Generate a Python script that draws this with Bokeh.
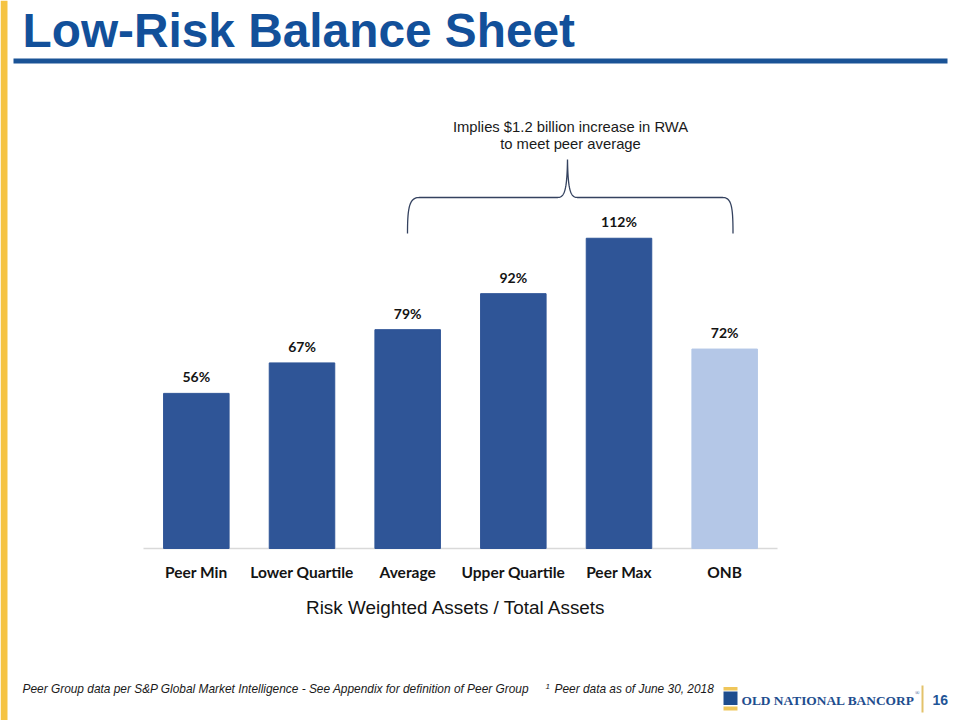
from bokeh.plotting import figure
from bokeh.models import ColumnDataSource, Range1d, LabelSet, Label, BoxAnnotation
from bokeh.core.properties import value
from bokeh.embed import file_html
from bokeh.resources import INLINE
import numpy as np

# ---------------- data ----------------
categories = ["Peer Min", "Lower Quartile", "Average", "Upper Quartile", "Peer Max", "ONB"]
values = [56, 67, 79, 92, 112, 72]
value_labels = [f"{v}%" for v in values]
bar_colors = ["#2F5597", "#2F5597", "#2F5597", "#2F5597", "#2F5597", "#B4C7E7"]

title_text = "Low-Risk Balance Sheet"
axis_title = "Risk Weighted Assets / Total Assets"
note_lines = ["Implies $1.2 billion increase in RWA", "to meet peer average"]
footer_text = "Peer Group data per S&P Global Market Intelligence - See Appendix for definition of Peer Group"
footnote_mark = "1"
footnote_text = "Peer data as of June 30, 2018"
company = "OLD NATIONAL BANCORP"
page_no = "16"

# ---------------- layout (screen pixels) ----------------
W, H = 960, 720
FRAME_L, FRAME_R = 143, 777   # extent of the category band
BASE = 548                    # pixel row of the zero line
PX_PER = 2.77                 # pixels per percentage point
CAT_W = (FRAME_R - FRAME_L) / len(categories)


def dx(sx):
    return (sx - FRAME_L) / CAT_W


def dy(sy):
    return (BASE - sy) / PX_PER


p = figure(width=W, height=H,
           x_range=Range1d(dx(0), dx(W)),
           y_range=Range1d(dy(H), dy(0)),
           output_backend="svg", toolbar_location=None,
           x_axis_location=None, y_axis_location=None,
           min_border=0)
p.outline_line_color = None
p.grid.visible = False
p.background_fill_color = "white"
p.border_fill_color = "white"

positions = [i + 0.5 for i in range(len(categories))]
src = ColumnDataSource(dict(x=positions, cat=categories, val=values, color=bar_colors,
                            label=value_labels, zero=[0] * len(values)))

# baseline (category axis line)
p.segment(x0=[0], x1=[len(categories)], y0=[0], y1=[0], line_color="#D9D9D9", line_width=1.3)

p.vbar(x="x", top="val", bottom=0, width=0.62, color="color", source=src)

p.add_layout(LabelSet(x="x", y="val", text="label", source=src, y_offset=11,
                      text_align="center", text_baseline="alphabetic",
                      text_font=value("Lato"), text_font_style="bold",
                      text_font_size="14px", text_color="#141414"))

# category labels
p.add_layout(LabelSet(x="x", y="zero", text="cat", source=src, y_offset=-23,
                      text_align="center", text_baseline="middle",
                      text_font=value("Lato"), text_font_style="bold",
                      text_font_size="15.5px", text_color="#141414"))

p.add_layout(Label(x=dx(456), y=dy(607), text=axis_title, text_align="center",
                   text_baseline="middle", text_font="Liberation Sans",
                   text_font_size="18.9px", text_color="#141414"))

# ---------------- slide decoration ----------------
def box(l, r, t, b, color):
    p.add_layout(BoxAnnotation(left=dx(l), right=dx(r), top=dy(t), bottom=dy(b),
                               fill_color=color, fill_alpha=1, line_color=None))

box(0, 7, 0, 720, "#F5C342")           # left yellow strip
box(13, 947, 58, 63, "#1A5396")        # title underline

p.add_layout(Label(x=dx(22), y=dy(30), text=title_text, text_font="Liberation Sans",
                   text_font_style="bold", text_font_size="47.8px", text_color="#12509A",
                   text_baseline="middle"))

# brace
def cubic(p0, p1, p2, p3, n=24):
    t = np.linspace(0, 1, n)[:, None]
    pts = ((1 - t) ** 3) * np.array(p0) + 3 * ((1 - t) ** 2) * t * np.array(p1) \
        + 3 * (1 - t) * t ** 2 * np.array(p2) + t ** 3 * np.array(p3)
    return pts

segs = [
    cubic((407, 233), (407, 206), (409, 197), (419, 197)),
    np.array([(419, 197), (557, 197)]),
    cubic((557, 197), (564, 197), (566.5, 190), (567, 159)),
    cubic((567, 159), (567.5, 190), (570, 197), (577, 197)),
    np.array([(577, 197), (722, 197)]),
    cubic((722, 197), (731, 197), (732.5, 206), (732.5, 233)),
]
path = np.vstack(segs)
p.line(x=[dx(v) for v in path[:, 0]], y=[dy(v) for v in path[:, 1]],
       line_color="#34425F", line_width=1.3)

for txt, sy in zip(note_lines, [126, 143]):
    p.add_layout(Label(x=dx(570), y=dy(sy), text=txt, text_align="center", text_baseline="middle",
                       text_font="Liberation Sans", text_font_size="14.8px", text_color="#1a1a1a"))

# footer
p.add_layout(Label(x=dx(22), y=dy(688.5), text=footer_text, text_font="Liberation Sans",
                   text_font_style="italic", text_font_size="11.9px", text_color="#1a1a1a",
                   text_baseline="middle"))
p.add_layout(Label(x=dx(545), y=dy(685.5), text=footnote_mark, text_font="Liberation Sans",
                   text_font_style="italic", text_font_size="8px", text_color="#1a1a1a",
                   text_baseline="middle"))
p.add_layout(Label(x=dx(554), y=dy(688.5), text=footnote_text, text_font="Liberation Sans",
                   text_font_style="italic", text_font_size="11.9px", text_color="#1a1a1a",
                   text_baseline="middle"))

# logo
box(723, 737, 686.5, 690, "#EFC65A")
box(723, 737, 691, 704.5, "#1E4D8E")
box(723, 737, 706, 710, "#EFC65A")
p.add_layout(Label(x=dx(741), y=dy(699.5), text=company, text_font="Liberation Serif",
                   text_font_style="bold", text_font_size="13.4px", text_color="#1E4D8E",
                   text_baseline="middle"))
p.add_layout(Label(x=dx(914.5), y=dy(692), text="\u00ae", text_font="Liberation Serif",
                   text_font_size="6px", text_color="#1E4D8E", text_baseline="middle"))
box(921, 923, 685, 712, "#E3C26B")
p.add_layout(Label(x=dx(932), y=dy(699), text=page_no, text_font="Liberation Sans",
                   text_font_style="bold", text_font_size="14px", text_color="#1F5597",
                   text_baseline="middle"))

open("out.html", "w").write(file_html(p, INLINE))
